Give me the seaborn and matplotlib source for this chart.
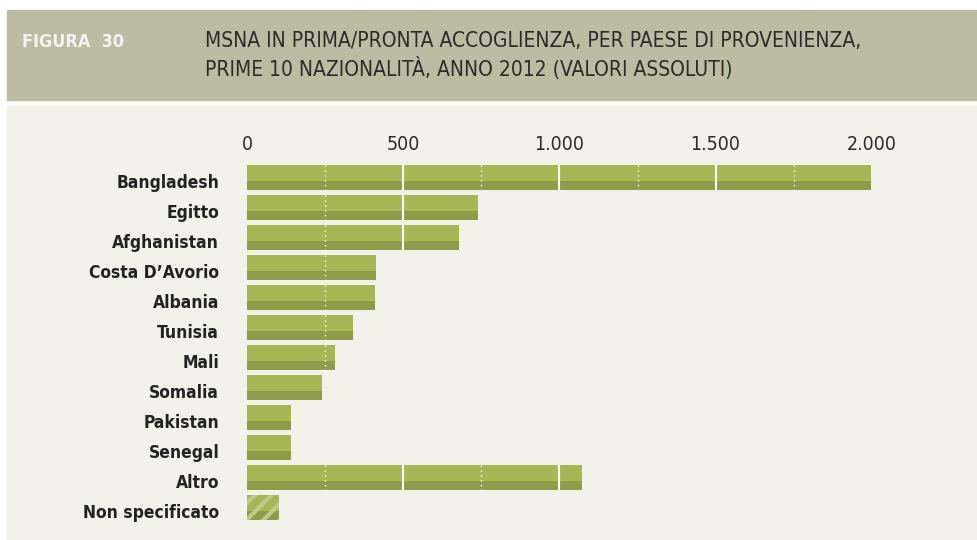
import matplotlib
matplotlib.use("Agg")
import matplotlib.pyplot as plt
from matplotlib.patches import Rectangle
from matplotlib.transforms import ScaledTranslation
import seaborn as sns

# data
paesi = ["Bangladesh", "Egitto", "Afghanistan", "Costa D\u2019Avorio", "Albania",
         "Tunisia", "Mali", "Somalia", "Pakistan", "Senegal", "Altro",
         "Non specificato"]
valori = [1997, 738, 679, 413, 410, 339, 282, 240, 141, 141, 1072, 102]
tick_vals = [0, 500, 1000, 1500, 2000]
tick_labels = ["0", "500", "1.000", "1.500", "2.000"]
grid_solid = [500, 1000, 1500]
grid_dotted = [250, 750, 1250, 1750]

LIGHT = "#A8B755"
DARK = "#8F9D4A"
HEADER = "#BDBBA2"
BODY = "#F2F2EA"

sns.set_style("white")
plt.rcParams["font.family"] = ["DejaVu Sans"]
plt.rcParams["font.stretch"] = "condensed"
plt.rcParams["hatch.linewidth"] = 3

W, H = 978, 540
fig = plt.figure(figsize=(W / 100, H / 100), dpi=100)
fig.patch.set_facecolor("white")

# header band and body panel
fig.patches.append(Rectangle((7 / W, (H - 100) / H), 1, 90 / H,
                             transform=fig.transFigure, color=HEADER, zorder=-2))
fig.patches.append(Rectangle((7 / W, 0), 1, (H - 106) / H,
                             transform=fig.transFigure, color=BODY, zorder=-2))
fig.text(22 / W, (H - 42) / H, "FIGURA  30", color="#F4F4EE", fontsize=13,
         fontweight="bold", va="center")
fig.text(205 / W, (H - 55.5) / H,
         "MSNA IN PRIMA/PRONTA ACCOGLIENZA, PER PAESE DI PROVENIENZA,\n"
         "PRIME 10 NAZIONALIT\u00c0, ANNO 2012 (VALORI ASSOLUTI)",
         color="#2B2B2B", fontsize=15, va="center", linespacing=1.3)

ax = fig.add_axes([247 / W, 17.5 / H, (960 - 247) / W, 360 / H])
ax.set_facecolor("none")

sns.barplot(x=valori, y=paesi, orient="h", color=LIGHT, saturation=1,
            width=25 / 30, ax=ax)
ax.set_xlim(0, (960 - 247) / 0.3124)
ax.set_ylim(len(paesi) - 0.5, -0.5)

last = len(ax.patches) - 1
for i, p in enumerate(list(ax.patches)):
    x0, y0, w, h = p.get_x(), p.get_y(), p.get_width(), p.get_height()
    p.set_linewidth(0)
    dark = Rectangle((x0, y0 + h * 16 / 25), w, h * 9 / 25, facecolor=DARK,
                     linewidth=0, zorder=p.get_zorder() + 0.1)
    ax.add_patch(dark)
    if i == last:
        for r in (p, dark):
            r.set_hatch("//")
            r.set_edgecolor("#BFC988")
    for g in grid_solid:
        if g < w:
            ax.vlines(g, y0, y0 + h, color="white", lw=1.5, zorder=5)
    for g in grid_dotted:
        if g < w:
            ax.vlines(g, y0, y0 + h, color="white", lw=1, linestyles=(0, (1, 2.5)),
                      zorder=5)

ax.xaxis.tick_top()
ax.set_xticks(tick_vals)
ax.set_xticklabels(tick_labels, fontsize=14, color="#2B2B2B")
ax.tick_params(axis="x", length=0, pad=6)
ax.tick_params(axis="y", length=0, pad=20, labelsize=12.5, labelcolor="#222222")
shift = ScaledTranslation(0, -4 / 100, fig.dpi_scale_trans)
for lab in ax.get_yticklabels():
    lab.set_fontweight("bold")
    lab.set_transform(lab.get_transform() + shift)
ax.set_xlabel("")
ax.set_ylabel("")
sns.despine(ax=ax, left=True, bottom=True, top=True, right=True)
ax.grid(False)

fig.savefig("out.png", dpi=100)
